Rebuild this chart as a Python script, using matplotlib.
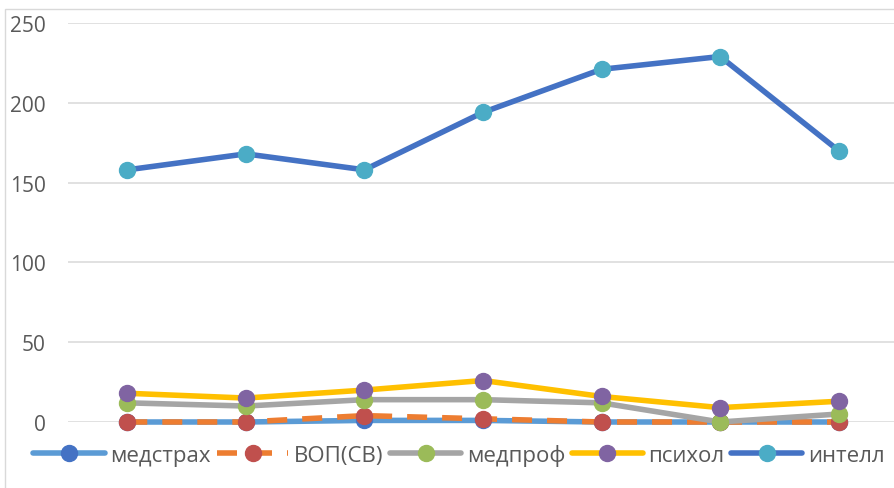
import matplotlib
matplotlib.use("Agg")
import matplotlib.pyplot as plt
from matplotlib.patches import Rectangle

categories = [1, 2, 3, 4, 5, 6, 7]
medstrakh = [0, 0, 1, 1, 0, 0, 0]
vop_sv = [0, 0, 4, 2, 0, 0, 0]
medprof = [12, 10, 14, 14, 12, 0, 5]
psikhol = [18, 15, 20, 26, 16, 9, 13]
intell = [158, 168, 158, 194, 221, 229, 170]

series_names = ["медстрах", "ВОП(СВ)", "медпроф", "психол", "интелл"]
y_ticks = [0, 50, 100, 150, 200, 250]

plt.rcParams['font.family'] = ['Open Sans', 'DejaVu Sans']

W, H = 894, 489
fig = plt.figure(figsize=(W / 100, H / 100), dpi=100)
# chart border
fig.patches.append(Rectangle((5 / W, -0.1), 1.2, (489 - 10) / H + 0.1,
                             transform=fig.transFigure, fill=False,
                             edgecolor='#D9D9D9', linewidth=1.0, zorder=0))

left_px, right_px = 68, 898
top_px, bottom_px = 24, 423
ax = fig.add_axes([left_px / W, (H - bottom_px) / H,
                   (right_px - left_px) / W, (bottom_px - top_px) / H])

styles = [
    dict(color='#5B9BD5', mfc='#4472C4', mec='#4472C4'),
    dict(color='#ED7D31', mfc='#C0504D', mec='#C0504D', dashes=(3.6, 2.7)),
    dict(color='#A5A5A5', mfc='#9BBB59', mec='#9BBB59'),
    dict(color='#FFC000', mfc='#8064A2', mec='#8064A2'),
    dict(color='#4472C4', mfc='#4BACC6', mec='#4BACC6'),
]
data = [medstrakh, vop_sv, medprof, psikhol, intell]
for name, vals, st in zip(series_names, data, styles):
    ax.plot(categories, vals, label=name, linewidth=4.0, marker='o',
            markersize=11.5, clip_on=False, solid_capstyle='round',
            dash_capstyle='butt', **st)

ax.set_xlim(0.5, 7.5)
ax.set_ylim(0, 250)
ax.set_yticks(y_ticks)
ax.set_xticks([])
ax.grid(axis='y', color='#D9D9D9', linewidth=1.1)
ax.set_axisbelow(True)
for s in ax.spines.values():
    s.set_visible(False)
ax.tick_params(axis='y', length=0, pad=16, labelsize=15, labelcolor='#595959')

leg = fig.legend(loc='center', bbox_to_anchor=(459 / W, (H - 456) / H),
                 ncol=5, frameon=False, fontsize=16, handlelength=3.2,
                 handletextpad=0.25, columnspacing=0.3, borderaxespad=0)
for t in leg.get_texts():
    t.set_color('#595959')

fig.savefig("out.png", dpi=100)
